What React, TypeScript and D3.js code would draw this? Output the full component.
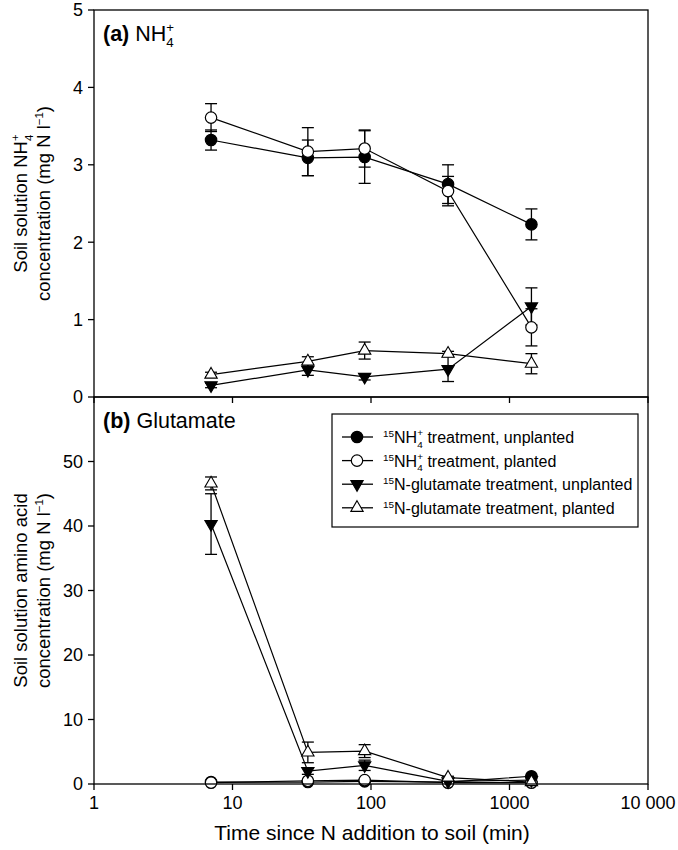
import { useEffect, useRef } from 'react'
import * as d3 from 'd3'

// sampling times (min)
const times = [7, 35, 90, 360, 1440]

// (a) NH4+ panel, means and standard errors (mg N l-1)
const aNh4Unplanted = [3.32, 3.09, 3.1, 2.75, 2.23]
const aNh4UnplantedSe = [0.13, 0.23, 0.34, 0.25, 0.2]
const aNh4Planted = [3.61, 3.17, 3.21, 2.66, 0.9]
const aNh4PlantedSe = [0.18, 0.31, 0.24, 0.19, 0.24]
const aGluUnplanted = [0.15, 0.35, 0.26, 0.36, 1.17]
const aGluUnplantedSe = [0.03, 0.07, 0.04, 0.16, 0.24]
const aGluPlanted = [0.29, 0.46, 0.6, 0.56, 0.43]
const aGluPlantedSe = [0.03, 0.06, 0.11, 0.03, 0.13]

// (b) Glutamate panel
const bNh4Unplanted = [0.3, 0.3, 0.4, 0.3, 1.2]
const bNh4UnplantedSe = [0.05, 0.05, 0.05, 0.05, 0.1]
const bNh4Planted = [0.2, 0.5, 0.6, 0.2, 0.2]
const bNh4PlantedSe = [0.05, 0.05, 0.05, 0.05, 0.05]
const bGluUnplanted = [40.3, 2.0, 2.9, 0.4, 0.6]
const bGluUnplantedSe = [4.7, 0.5, 0.8, 0.2, 0.2]
const bGluPlanted = [46.6, 4.9, 5.1, 1.0, 0.3]
const bGluPlantedSe = [1.0, 1.6, 1.0, 0.2, 0.1]

const xTicks = [1, 10, 100, 1000, 10000]
const xTickLabels = ['1', '10', '100', '1000', '10 000']
const aTicks = [0, 1, 2, 3, 4, 5]
const bTicks = [0, 10, 20, 30, 40, 50]

type Marker = 'circleFilled' | 'circleOpen' | 'triDown' | 'triUp'
const markers: Marker[] = ['circleFilled', 'circleOpen', 'triDown', 'triUp']

const FONT = '"Liberation Sans", Arial, sans-serif'

type TextSel = d3.Selection<SVGTextElement, unknown, null, undefined>

export default function App() {
  const svgRef = useRef<SVGSVGElement>(null)

  useEffect(() => {
    if (!svgRef.current) return
    const svg = d3.select(svgRef.current)
    svg.selectAll('*').remove()

    const left = 94
    const right = 648
    const aTop = 10
    const mid = 397
    const bBottom = 784

    const x = d3.scaleLog().domain([1, 10000]).range([left, right])
    const yA = d3.scaleLinear().domain([0, 5]).range([mid, aTop])
    const yB = d3.scaleLinear().domain([0, 60]).range([bBottom, mid])

    const g = svg.append('g').style('font-family', FONT)

    const drawMarker = (sel: d3.Selection<SVGGElement, unknown, null, undefined>, m: Marker, cx: number, cy: number) => {
      if (m === 'circleFilled' || m === 'circleOpen') {
        sel.append('circle')
          .attr('cx', cx).attr('cy', cy).attr('r', 5.7)
          .attr('fill', m === 'circleFilled' ? '#000' : '#fff')
          .attr('stroke', '#000').attr('stroke-width', 1.2)
      } else {
        sel.append('path')
          .attr('d', d3.symbol().type(d3.symbolTriangle).size(66)())
          .attr('transform', `translate(${cx},${cy})${m === 'triDown' ? ' rotate(180)' : ''}`)
          .attr('fill', m === 'triDown' ? '#000' : '#fff')
          .attr('stroke', '#000').attr('stroke-width', 1.1)
      }
    }

    const drawPanel = (
      y: d3.ScaleLinear<number, number>,
      series: number[][],
      ses: number[][],
    ) => {
      const pg = g.append('g')
      const line = d3.line<number>().x((_, i) => x(times[i])).y((d) => y(d))
      series.forEach((vals, si) => {
        // error bars
        vals.forEach((v, i) => {
          const cx = x(times[i])
          const y0 = y(v - ses[si][i])
          const y1 = y(v + ses[si][i])
          pg.append('line').attr('x1', cx).attr('x2', cx).attr('y1', y0).attr('y2', y1)
            .attr('stroke', '#000').attr('stroke-width', 1.3)
          ;[y0, y1].forEach((yy) => {
            pg.append('line').attr('x1', cx - 6).attr('x2', cx + 6).attr('y1', yy).attr('y2', yy)
              .attr('stroke', '#000').attr('stroke-width', 1.3)
          })
        })
        pg.append('path').datum(vals).attr('d', line)
          .attr('fill', 'none').attr('stroke', '#000').attr('stroke-width', 1.2)
      })
      series.forEach((vals, si) => {
        vals.forEach((v, i) => drawMarker(pg, markers[si], x(times[i]), y(v)))
      })
    }

    drawPanel(yA, [aNh4Unplanted, aNh4Planted, aGluUnplanted, aGluPlanted],
      [aNh4UnplantedSe, aNh4PlantedSe, aGluUnplantedSe, aGluPlantedSe])
    drawPanel(yB, [bNh4Unplanted, bNh4Planted, bGluUnplanted, bGluPlanted],
      [bNh4UnplantedSe, bNh4PlantedSe, bGluUnplantedSe, bGluPlantedSe])

    // frames
    g.append('rect').attr('x', left).attr('y', aTop).attr('width', right - left).attr('height', mid - aTop)
      .attr('fill', 'none').attr('stroke', '#000').attr('stroke-width', 1.3)
    g.append('rect').attr('x', left).attr('y', mid).attr('width', right - left).attr('height', bBottom - mid)
      .attr('fill', 'none').attr('stroke', '#000').attr('stroke-width', 1.3)

    // y ticks
    const yTickGroup = (y: d3.ScaleLinear<number, number>, ticks: number[]) => {
      ticks.forEach((t) => {
        g.append('line').attr('x1', left - 6).attr('x2', left).attr('y1', y(t)).attr('y2', y(t))
          .attr('stroke', '#000').attr('stroke-width', 1.3)
        g.append('text').attr('x', left - 11).attr('y', y(t)).attr('dy', '0.36em')
          .attr('text-anchor', 'end').style('font-size', '18px').text(String(t))
      })
    }
    yTickGroup(yA, aTicks)
    yTickGroup(yB, bTicks)

    // x ticks (both panels)
    xTicks.forEach((t, i) => {
      ;[mid, bBottom].forEach((yy) => {
        g.append('line').attr('x1', x(t)).attr('x2', x(t)).attr('y1', yy).attr('y2', yy + 6)
          .attr('stroke', '#000').attr('stroke-width', 1.3)
      })
      g.append('text').attr('x', x(t)).attr('y', 809).attr('text-anchor', 'middle')
        .style('font-size', '18px').text(xTickLabels[i])
    })

    // x title
    g.append('text').attr('x', 372).attr('y', 840).attr('text-anchor', 'middle')
      .style('font-size', '21px').text('Time since N addition to soil (min)')

    // NH4 with stacked sub/superscript; the following text continues via `after`
    const nh4 = (t: TextSel, size: number, after: string) => {
      t.append('tspan').text('NH')
      const small = size * 0.62
      t.append('tspan').attr('dy', size * 0.3).style('font-size', `${small}px`).text('4')
      t.append('tspan').attr('dx', -small * 0.556).attr('dy', -size * 0.72).style('font-size', `${small}px`).text('+')
      t.append('tspan').attr('dy', size * 0.42).text(after)
    }

    // superscript helper
    const sup = (t: TextSel, size: number, s: string, after: string) => {
      t.append('tspan').attr('dy', -size * 0.38).style('font-size', `${size * 0.62}px`).text(s)
      t.append('tspan').attr('dy', size * 0.38).text(after)
    }

    // panel labels
    const la = g.append('text').attr('x', 103).attr('y', 41).style('font-size', '21.5px')
    la.append('tspan').style('font-weight', 'bold').text('(a) ')
    nh4(la, 21.5, '')
    const lb = g.append('text').attr('x', 103).attr('y', 428).style('font-size', '21.5px')
    lb.append('tspan').style('font-weight', 'bold').text('(b) ')
    lb.append('tspan').text('Glutamate')

    // y titles
    const ya1 = g.append('text').attr('transform', `translate(27,${(aTop + mid) / 2}) rotate(-90)`)
      .attr('text-anchor', 'middle').style('font-size', '18.5px')
    ya1.append('tspan').text('Soil solution ')
    nh4(ya1, 18.5, '')
    const ya2 = g.append('text').attr('transform', `translate(50,${(aTop + mid) / 2}) rotate(-90)`)
      .attr('text-anchor', 'middle').style('font-size', '18.5px')
    ya2.append('tspan').text('concentration (mg N l')
    sup(ya2, 18.5, '−1', ')')

    g.append('text').attr('transform', `translate(27,${(mid + bBottom) / 2}) rotate(-90)`)
      .attr('text-anchor', 'middle').style('font-size', '18.5px').text('Soil solution amino acid')
    const yb2 = g.append('text').attr('transform', `translate(50,${(mid + bBottom) / 2}) rotate(-90)`)
      .attr('text-anchor', 'middle').style('font-size', '18.5px')
    yb2.append('tspan').text('concentration (mg N l')
    sup(yb2, 18.5, '−1', ')')

    // legend
    const lgX = 332
    const lgY = 414
    g.append('rect').attr('x', lgX).attr('y', lgY).attr('width', 306).attr('height', 113)
      .attr('fill', '#fff').attr('stroke', '#000').attr('stroke-width', 1.2)
    const legendRows: [string, string][] = [
      ['nh4', ' treatment, unplanted'],
      ['nh4', ' treatment, planted'],
      ['N', '-glutamate treatment, unplanted'],
      ['N', '-glutamate treatment, planted'],
    ]
    const lfs = 16
    legendRows.forEach(([kind, rest], i) => {
      const cy = 437 + i * 23.6
      const lg = g.append('g') as unknown as d3.Selection<SVGGElement, unknown, null, undefined>
      lg.append('line').attr('x1', 342).attr('x2', 373).attr('y1', cy).attr('y2', cy)
        .attr('stroke', '#000').attr('stroke-width', 1.3)
      drawMarker(lg, markers[i], 357, cy)
      const t = g.append('text').attr('x', 383).attr('y', cy + 6).style('font-size', `${lfs}px`)
      t.append('tspan').attr('dy', -lfs * 0.38).style('font-size', `${lfs * 0.62}px`).text('15')
      if (kind === 'nh4') {
        t.append('tspan').attr('dy', lfs * 0.38).text('NH')
        const small = lfs * 0.62
        t.append('tspan').attr('dy', lfs * 0.3).style('font-size', `${small}px`).text('4')
        t.append('tspan').attr('dx', -small * 0.556).attr('dy', -lfs * 0.72).style('font-size', `${small}px`).text('+')
        t.append('tspan').attr('dy', lfs * 0.42).text(rest)
      } else {
        t.append('tspan').attr('dy', lfs * 0.38).text('N' + rest)
      }
    })
  }, [])

  return (
    <svg
      ref={svgRef}
      width={678}
      height={850}
      style={{ position: 'absolute', left: 0, top: 0, background: '#fff' }}
    />
  )
}
